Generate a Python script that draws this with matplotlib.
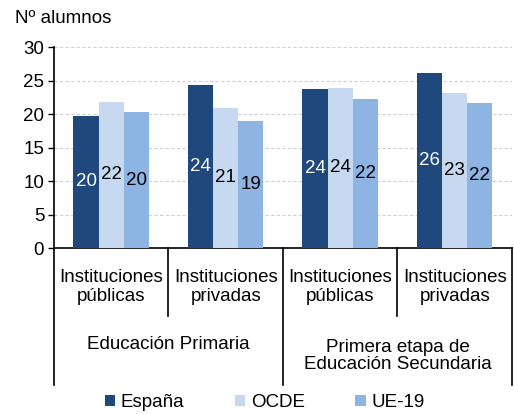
import matplotlib
matplotlib.use("Agg")
import matplotlib.pyplot as plt
import numpy as np
from matplotlib.lines import Line2D
from matplotlib.patches import Patch

plt.rcParams['font.family'] = ['Liberation Sans', 'DejaVu Sans']

categories = ["Instituciones\npúblicas", "Instituciones\nprivadas",
              "Instituciones\npúblicas", "Instituciones\nprivadas"]
groups = ["Educación Primaria", "Primera etapa de\nEducación Secundaria"]
series = ["España", "OCDE", "UE-19"]
espana = [19.75, 24.4, 23.7, 26.1]
ocde = [21.8, 20.9, 23.9, 23.1]
ue19 = [20.3, 19.0, 22.2, 21.6]
colors = ["#1f487c", "#c6d9f1", "#8eb4e3"]
label_colors = ["white", "black", "black"]

FS = 13.5

fig = plt.figure(figsize=(5.14, 4.15), dpi=100)
ax = fig.add_axes([0.105, 0.4024, 0.891, 0.4843])

x = np.arange(len(categories))
w = 0.22
for i, (vals, c, lc) in enumerate(zip([espana, ocde, ue19], colors, label_colors)):
    bars = ax.bar(x + (i - 1) * w, vals, width=w, color=c, label=series[i], zorder=3)
    for b, v in zip(bars, vals):
        ax.text(b.get_x() + b.get_width() / 2, v / 2, f"{v:.0f}", ha="center", va="center",
                color=lc, fontsize=FS, zorder=4)

ax.set_xlim(-0.5, 3.5)
ax.set_ylim(0, 30)
ax.set_yticks(range(0, 31, 5))
ax.tick_params(axis='y', labelsize=FS, length=4, direction='out', width=1, pad=3)
ax.set_xticks([])
ax.grid(axis='y', color='#d0d0d0', linestyle=(0, (3, 2)), linewidth=0.8, zorder=0)
for s in ['top', 'right']:
    ax.spines[s].set_visible(False)
ax.spines['left'].set_linewidth(1.2)
ax.spines['bottom'].set_linewidth(1.2)

trans = ax.get_xaxis_transform()
px = 1 / 201.0
for xs in [-0.5, 1.5, 3.5]:
    ax.add_line(Line2D([xs, xs], [0, -137 * px], transform=trans, color='black', lw=1.2, clip_on=False))
for xs in [0.5, 2.5]:
    ax.add_line(Line2D([xs, xs], [0, -68 * px], transform=trans, color='black', lw=1.2, clip_on=False))

for xi, lab in zip(x, categories):
    ax.text(xi, -39 * px, lab, transform=trans, ha='center', va='center', fontsize=FS, linespacing=1.1)
ax.text(0.5, -97 * px, groups[0], transform=trans, ha='center', va='center', fontsize=FS)
ax.text(2.5, -108 * px, groups[1], transform=trans, ha='center', va='center', fontsize=FS, linespacing=1.05)

fig.text(0.029, 0.956, "Nº alumnos", fontsize=FS, ha='left', va='center')

handles = [Patch(facecolor=c, edgecolor='none') for c in colors]
fig.legend(handles, series, loc='center', bbox_to_anchor=(0.515, 0.029), ncol=3, frameon=False,
           fontsize=FS, handlelength=0.55, handleheight=0.55, handletextpad=0.3, columnspacing=2.7)

fig.savefig("out.png", dpi=100)
